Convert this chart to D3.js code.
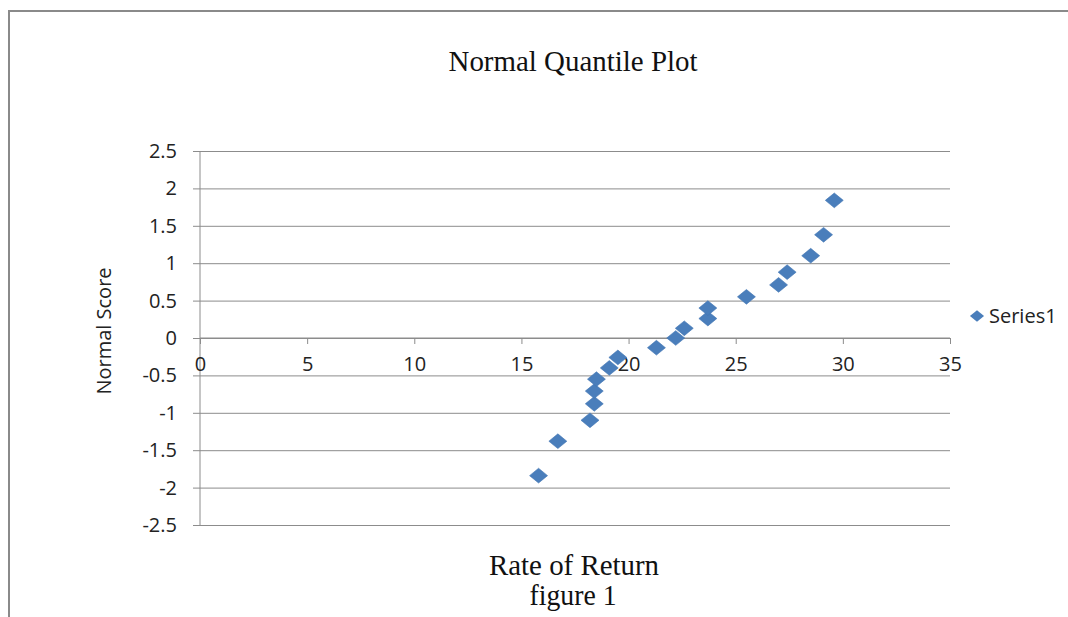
<!DOCTYPE html>
<html>
<head>
<meta charset="utf-8">
<script src="https://cdn.jsdelivr.net/npm/d3@7"></script>
<style>
  body { margin: 0; background: #fff; }
  svg { display: block; }
</style>
</head>
<body>
<svg id="chart"></svg>
<script>
const width = 1068;
const height = 617;

// data
const rateOfReturn = [15.8, 16.7, 18.2, 18.4, 18.4, 18.5, 19.1, 19.5, 21.3, 22.2, 22.6, 23.7, 23.7, 25.5, 27.0, 27.4, 28.5, 29.1, 29.6];
const normalScore = [-1.84, -1.38, -1.1, -0.88, -0.71, -0.55, -0.4, -0.26, -0.13, 0, 0.13, 0.26, 0.4, 0.55, 0.71, 0.88, 1.1, 1.38, 1.84];
const xTicks = [0, 5, 10, 15, 20, 25, 30, 35];
const yTicks = [-2.5, -2, -1.5, -1, -0.5, 0, 0.5, 1, 1.5, 2, 2.5];
const seriesName = "Series1";

const plot = { left: 200, right: 950, top: 151, bottom: 525 };
const blue = "#4a7ebb";
const gridColor = "#8c8c8c";
const sansFont = "'Open Sans', 'DejaVu Sans', sans-serif";
const serifFont = "'Liberation Serif', 'Times New Roman', serif";

const svg = d3.select("#chart")
    .attr("width", width)
    .attr("height", height);

// chart border (top and left edges visible)
svg.append("path")
    .attr("d", `M9,${height} V11 H${width}`)
    .attr("fill", "none")
    .attr("stroke", "#8a8a8a")
    .attr("stroke-width", 2);

const x = d3.scaleLinear().domain([0, 35]).range([plot.left, plot.right]);
const y = d3.scaleLinear().domain([-2.5, 2.5]).range([plot.bottom, plot.top]);

// excel style diamond, wider than tall
const wideDiamond = {
    draw(ctx, size) {
        const w = Math.sqrt(size) * 0.62;
        const h = w * 0.82;
        ctx.moveTo(0, -h);
        ctx.lineTo(w, 0);
        ctx.lineTo(0, h);
        ctx.lineTo(-w, 0);
        ctx.closePath();
    }
};

// horizontal gridlines with y axis
const yAxis = svg.append("g")
    .attr("transform", `translate(${plot.left},0)`)
    .call(d3.axisLeft(y)
        .tickValues(yTicks)
        .tickSize(7)
        .tickPadding(16)
        .tickFormat(d => String(d)));
yAxis.select(".domain").attr("stroke", gridColor).attr("d", `M0,${plot.top}V${plot.bottom}`);
yAxis.selectAll(".tick line").attr("stroke", gridColor);
yAxis.selectAll(".tick").append("line")
    .attr("x1", 0)
    .attr("x2", plot.right - plot.left)
    .attr("stroke", gridColor);
yAxis.selectAll(".tick text")
    .attr("fill", "#222")
    .attr("font-family", sansFont)
    .attr("font-size", 20);

// x axis through y = 0
const xAxis = svg.append("g")
    .attr("transform", `translate(0,${y(0)})`)
    .call(d3.axisBottom(x)
        .tickValues(xTicks)
        .tickSize(6)
        .tickPadding(13)
        .tickFormat(d => String(d)));
xAxis.select(".domain").attr("stroke", gridColor).attr("d", `M${plot.left},0H${plot.right}`);
xAxis.selectAll(".tick line").attr("stroke", gridColor);
xAxis.selectAll(".tick text")
    .attr("fill", "#222")
    .attr("font-family", sansFont)
    .attr("font-size", 20);

// points
const marker = d3.symbol().type(wideDiamond).size(210);
svg.append("g")
    .selectAll("path")
    .data(rateOfReturn.map((r, i) => ({ r, s: normalScore[i] })))
    .enter().append("path")
    .attr("d", marker)
    .attr("transform", d => `translate(${x(d.r)},${y(d.s)})`)
    .attr("fill", blue)
    .attr("stroke", "#4275b3")
    .attr("stroke-width", 0.6);

// title
svg.append("text")
    .attr("x", 573)
    .attr("y", 71)
    .attr("text-anchor", "middle")
    .attr("textLength", 249)
    .attr("lengthAdjust", "spacingAndGlyphs")
    .attr("font-family", serifFont)
    .attr("font-size", 30)
    .attr("fill", "#111")
    .text("Normal Quantile Plot");

// axis titles
svg.append("text")
    .attr("x", 574)
    .attr("y", 575)
    .attr("text-anchor", "middle")
    .attr("textLength", 170)
    .attr("lengthAdjust", "spacingAndGlyphs")
    .attr("font-family", serifFont)
    .attr("font-size", 30)
    .attr("fill", "#111")
    .text("Rate of Return");

svg.append("text")
    .attr("x", 573)
    .attr("y", 605)
    .attr("text-anchor", "middle")
    .attr("textLength", 87)
    .attr("lengthAdjust", "spacingAndGlyphs")
    .attr("font-family", serifFont)
    .attr("font-size", 30)
    .attr("fill", "#111")
    .text("figure 1");

svg.append("text")
    .attr("transform", `translate(111,331) rotate(-90)`)
    .attr("text-anchor", "middle")
    .attr("font-family", sansFont)
    .attr("font-size", 20)
    .attr("fill", "#222")
    .text("Normal Score");

// legend
const legend = svg.append("g").attr("transform", "translate(977,316)");
legend.append("path")
    .attr("d", d3.symbol().type(wideDiamond).size(130))
    .attr("fill", blue);
legend.append("text")
    .attr("x", 12)
    .attr("y", 7)
    .attr("font-family", sansFont)
    .attr("font-size", 20)
    .attr("fill", "#222")
    .text(seriesName);
</script>
</body>
</html>
